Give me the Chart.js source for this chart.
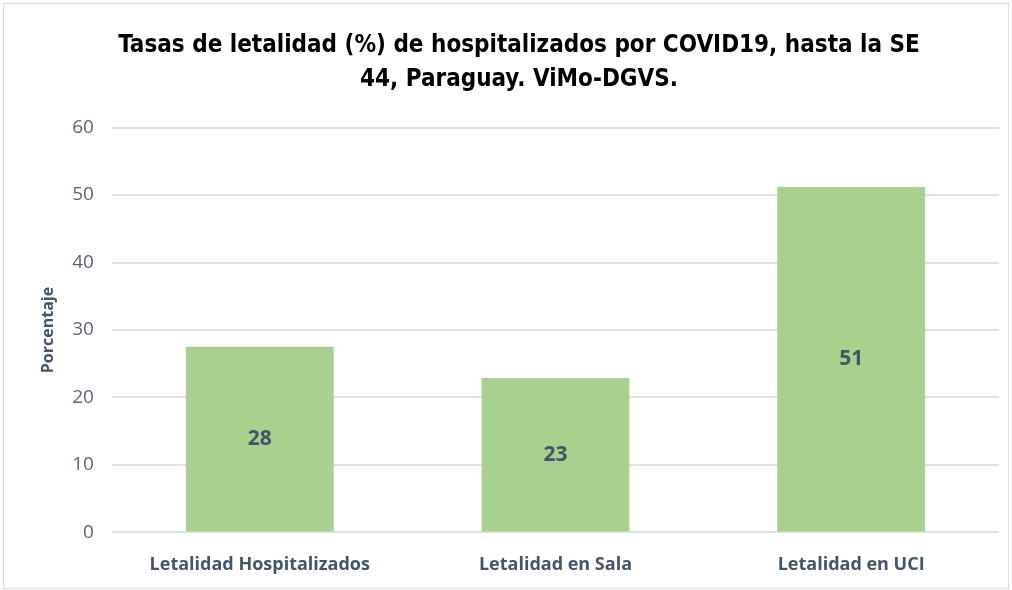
<!DOCTYPE html>
<html>
<head>
<meta charset="utf-8">
<script src="https://cdn.jsdelivr.net/npm/chart.js@4"></script>
<style>
  html, body { margin: 0; padding: 0; background: #fff; }
  #wrap { position: absolute; left: 3px; top: 3px; width: 1006px; height: 586px; border: 1px solid #d9dde3; box-sizing: border-box; }
  #chart1 { display: block; }
</style>
</head>
<body>
<div id="wrap"><canvas id="chart1" width="1004" height="584"></canvas></div>
<script>
var categorias = ["Letalidad Hospitalizados", "Letalidad en Sala", "Letalidad en UCI"];
var letalidad = [27.5, 22.9, 51.2];
var tituloLineas = ["Tasas de letalidad (%) de hospitalizados por COVID19, hasta la SE", "44, Paraguay. ViMo-DGVS."];

var colorTexto = '#44546A';

// etiquetas con el valor redondeado en el centro de cada barra
var etiquetasBarras = {
    id: 'etiquetasBarras',
    afterDatasetsDraw: function(chart) {
        var ctx = chart.ctx;
        var meta = chart.getDatasetMeta(0);
        ctx.save();
        ctx.font = 'bold 21px "Open Sans", sans-serif';
        ctx.fillStyle = colorTexto;
        ctx.textAlign = 'center';
        ctx.textBaseline = 'middle';
        meta.data.forEach(function(bar, i) {
            var y = (bar.y + bar.base) / 2;
            ctx.fillText(Math.round(letalidad[i]), bar.x, y);
        });
        ctx.restore();
    }
};

var chartCanvas1 = document.getElementById('chart1');
var configCanvas1 = {
    type: "bar",
    data: {
        labels: categorias,
        datasets: [{
            label: "Letalidad",
            data: letalidad,
            backgroundColor: '#A9D18E',
            borderWidth: 0,
            barPercentage: 0.5,
            categoryPercentage: 1.0
        }]
    },
    options: {
        responsive: false,
        animation: false,
        layout: { padding: { left: 35, right: 9, top: 10, bottom: -2 } },
        plugins: {
            legend: { display: false },
            tooltip: { enabled: false },
            title: {
                display: true,
                text: tituloLineas,
                color: '#000',
                font: { family: '"DejaVu Sans Condensed", sans-serif', size: 24, weight: 'bold', lineHeight: 1.45 },
                padding: { top: 14, bottom: 30 }
            }
        },
        scales: {
            x: {
                grid: { display: false },
                border: { display: false },
                ticks: {
                    color: colorTexto,
                    padding: 14,
                    font: { family: '"Open Sans", sans-serif', size: 18, weight: 'bold' }
                }
            },
            y: {
                min: 0,
                max: 60,
                ticks: {
                    stepSize: 10,
                    color: '#5b6577',
                    padding: 18,
                    font: { family: '"Open Sans", sans-serif', size: 19 }
                },
                grid: { color: '#dde1e7', lineWidth: 2, drawTicks: false },
                border: { display: false },
                title: {
                    display: true,
                    text: 'Porcentaje',
                    color: colorTexto,
                    padding: { top: 0, bottom: -4 },
                    font: { family: '"Open Sans", sans-serif', size: 16, weight: 'bold' }
                }
            }
        }
    },
    plugins: [etiquetasBarras]
};

var myChart1 = new Chart(chartCanvas1, configCanvas1);
</script>
</body>
</html>
